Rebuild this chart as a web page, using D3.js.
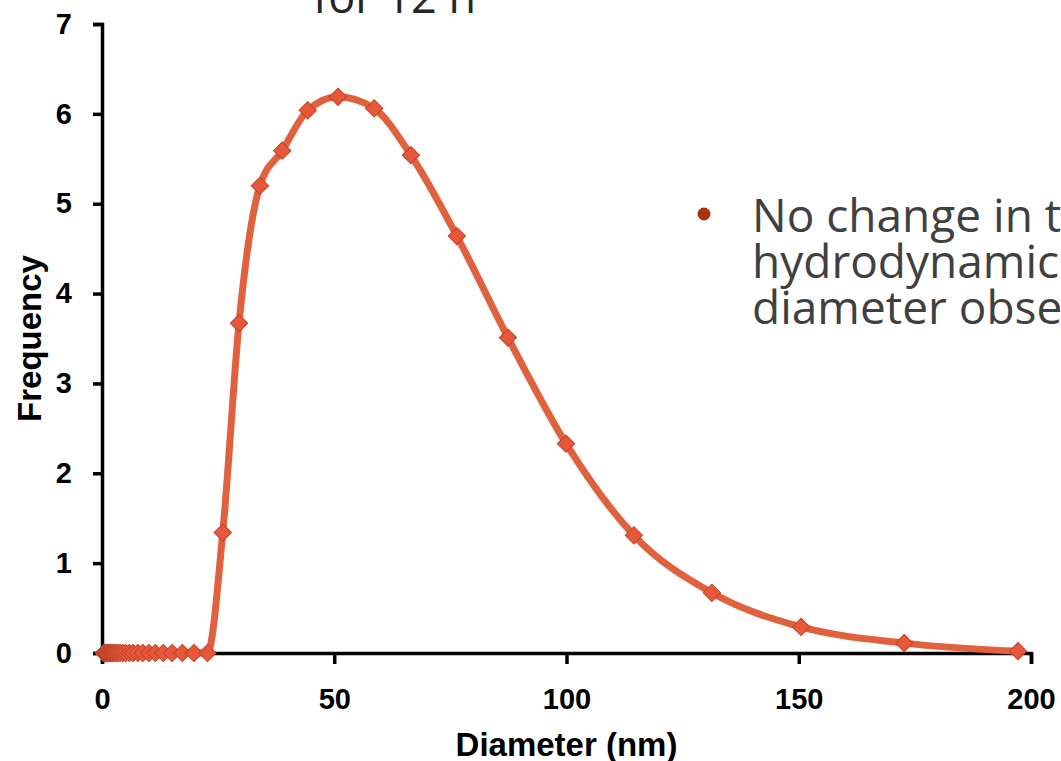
<!DOCTYPE html>
<html>
<head>
<meta charset="utf-8">
<script src="https://cdn.jsdelivr.net/npm/d3@7"></script>
<style>
  html, body { margin: 0; padding: 0; background: #fff; }
  svg { display: block; }
</style>
</head>
<body>
<svg id="chart" width="1061" height="761"></svg>
<script>
// ---- data ----
const diameters = [0.40, 0.45, 0.52, 0.59, 0.68, 0.78, 0.89, 1.02, 1.16, 1.33,
  1.53, 1.75, 2.0, 2.3, 2.6, 3.0, 3.4, 3.9, 4.5, 5.1,
  5.9, 6.7, 7.7, 8.8, 10.1, 11.5, 13.2, 15.1, 17.3, 19.8,
  22.7, 26.0, 29.5, 34.0, 38.8, 44.3, 50.8, 58.6, 66.5, 76.4,
  87.4, 99.9, 114.5, 131.3, 150.5, 172.7, 197.2];
const frequency = [0, 0, 0, 0, 0, 0, 0, 0, 0, 0,
  0, 0, 0, 0, 0, 0, 0, 0, 0, 0,
  0, 0, 0, 0, 0, 0, 0, 0, 0, 0,
  0, 1.34, 3.67, 5.20, 5.59, 6.04, 6.19, 6.06, 5.54, 4.64,
  3.51, 2.33, 1.31, 0.67, 0.29, 0.11, 0.02];
const xTicks = [0, 50, 100, 150, 200];
const yTicks = [0, 1, 2, 3, 4, 5, 6, 7];
const xLabel = "Diameter (nm)";
const yLabel = "Frequency";
const titleText = "for 12 h";
const bulletLines = ["No change in the", "hydrodynamic", "diameter observed"];

// ---- layout ----
const svg = d3.select("#chart");
const mLeft = 102, mRight = 1031, mTop = 24, mBottom = 653;

const x = d3.scaleLinear().domain([0, 200]).range([mLeft, mRight]);
const y = d3.scaleLinear().domain([0, 7]).range([mBottom, mTop]);

// title fragment (cut off at top)
svg.append("text")
  .attr("x", 313).attr("y", 13)
  .attr("font-family", "'Open Sans', sans-serif")
  .attr("font-size", 45)
  .attr("fill", "#262626")
  .text(titleText);

// bullet text
svg.append("circle").attr("cx", 704).attr("cy", 214).attr("r", 6.5).attr("fill", "#A8320F");
const bt = svg.append("text")
  .attr("font-family", "'Open Sans', sans-serif")
  .attr("font-size", 46)
  .attr("fill", "#404040");
bulletLines.forEach((t, i) => {
  bt.append("tspan").attr("x", 752).attr("y", 232 + i * 46).text(t);
});

// axes
const fontAx = "'Liberation Sans', Arial, sans-serif";
const xAxis = svg.append("g")
  .attr("transform", `translate(0,${mBottom})`)
  .call(d3.axisBottom(x).tickValues(xTicks).tickSize(11).tickSizeOuter(11).tickPadding(24).tickFormat(d3.format("d")));
const yAxis = svg.append("g")
  .attr("transform", `translate(${mLeft},0)`)
  .call(d3.axisLeft(y).tickValues(yTicks).tickSize(9).tickSizeOuter(9).tickPadding(21).tickFormat(d3.format("d")));

[xAxis, yAxis].forEach(g => {
  g.select(".domain").attr("stroke", "#000").attr("stroke-width", 3.5);
  g.selectAll(".tick line").attr("stroke", "#000").attr("stroke-width", 3.5);
  g.selectAll(".tick text")
    .attr("font-family", fontAx)
    .attr("font-weight", "bold")
    .attr("font-size", 29)
    .attr("fill", "#000");
});
xAxis.selectAll(".tick text").attr("dy", "0.71em");

svg.append("text")
  .attr("x", (mLeft + mRight) / 2).attr("y", 756)
  .attr("text-anchor", "middle")
  .attr("font-family", fontAx).attr("font-weight", "bold").attr("font-size", 33)
  .text(xLabel);

svg.append("text")
  .attr("transform", `translate(41,${(mTop + mBottom) / 2}) rotate(-90)`)
  .attr("text-anchor", "middle")
  .attr("font-family", fontAx).attr("font-weight", "bold").attr("font-size", 33)
  .text(yLabel);

// line
const pts = diameters.map((d, i) => ({ d, f: frequency[i] }));
const line = d3.line().x(p => x(p.d)).y(p => y(p.f)).curve(d3.curveMonotoneX);
svg.append("path")
  .datum(pts)
  .attr("d", line)
  .attr("fill", "none")
  .attr("stroke", "#E0613D")
  .attr("stroke-width", 7)
  .attr("stroke-linejoin", "round");

// markers
const diamond = d3.symbol().type(d3.symbolSquare).size(150);
svg.append("g").selectAll("path")
  .data(pts)
  .join("path")
  .attr("transform", p => `translate(${x(p.d)},${y(p.f)}) rotate(45)`)
  .attr("d", diamond)
  .attr("fill", "#E8573A")
  .attr("stroke", "#BE4529")
  .attr("stroke-width", 1);
</script>
</body>
</html>
